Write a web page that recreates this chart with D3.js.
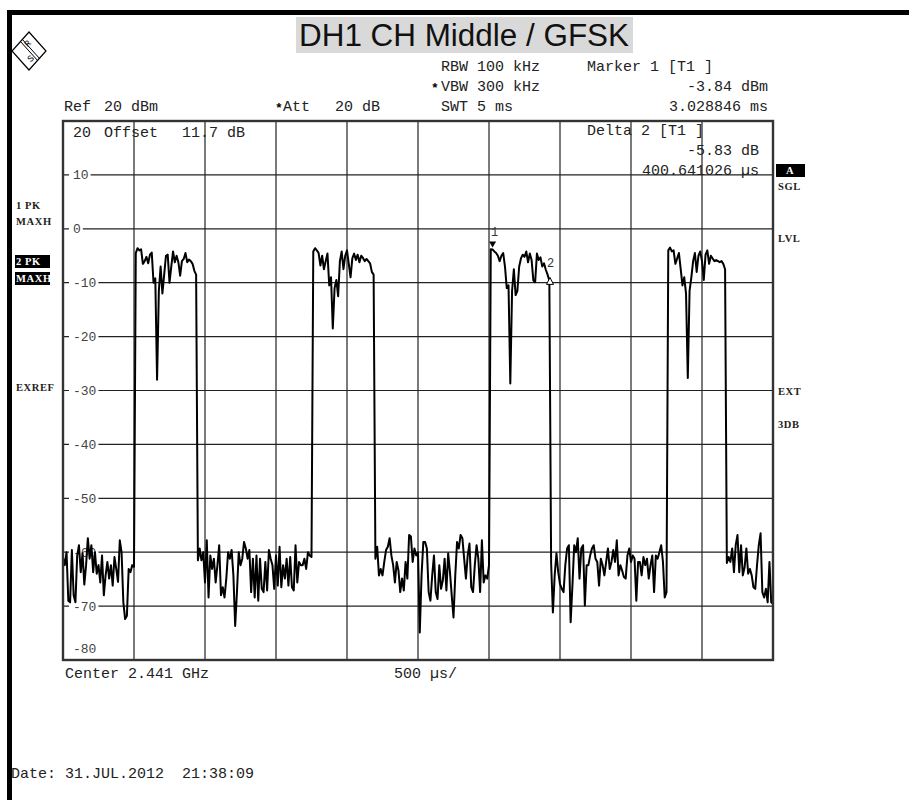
<!DOCTYPE html>
<html>
<head>
<meta charset="utf-8">
<script src="https://cdn.jsdelivr.net/npm/d3@7"></script>
<style>
  body { margin: 0; background: #fff; }
  svg text { font-family: "Liberation Mono", "Courier New", monospace; white-space: pre; }
</style>
</head>
<body>
<div id="chart"></div>
<script>
// ---- data ----
var sweepMs = 5;                 // 500 us/div, 10 divisions
var levelTicks = [20, 10, 0, -10, -20, -30, -40, -50, -60, -70, -80];
var timeDivs = [0.5, 1, 1.5, 2, 2.5, 3, 3.5, 4, 4.5];

// trace 2 (max hold), 401 sweep points, dBm
var levelDb = [
  -61, -62.4, -60, -69, -69.3, -59.6, -68, -69.3, -60.6, -58.7,          // 0
  -63.7, -60.2, -66, -62.4, -57.4, -61.2, -58.7, -63.7, -60, -64,        // 10
  -62.4, -65.6, -60.6, -68, -64.3, -61.8, -64.9, -62.4, -66.2, -60.9,    // 20
  -63.1, -65.5, -57.8, -60, -69.3, -72.4, -71.8, -63.1, -63.7, -62.4,    // 30
  -62.7, -4.5, -3.6, -4.0, -3.8, -6.5, -6.0, -5.2, -6.4, -4.8,           // 40
  -4.4, -10.0, -9.2, -28.0, -11.5, -7.0, -12.0, -8.5, -5.0, -4.8,        // 50
  -10.0, -7.0, -4.2, -6.2, -5.0, -6.2, -8.7, -6.0, -5.6, -4.5,           // 60
  -6.2, -5.7, -6.0, -6.5, -7.8, -8.5, -61.5, -59.3, -61.5, -60,          // 70
  -65.6, -57.8, -68.4, -60.6, -63.1, -61.2, -65.6, -62.4, -58.7, -68,    // 80
  -66.5, -68.4, -64.9, -60, -61.2, -59.6, -64.3, -73.7, -67.4, -60,      // 90
  -62.4, -61.2, -58.1, -59.3, -61.2, -59.6, -67.4, -61.2, -68.4, -60.6,  // 100
  -69, -61.2, -66.8, -67.4, -61.8, -67.1, -59.6, -61.2, -62.4, -66.8,    // 110
  -60.6, -66.2, -59, -66.5, -62.4, -64.9, -61.2, -66.2, -60.9, -66.5,    // 120
  -67.1, -58.7, -65.6, -61.8, -62.4, -62.4, -61.2, -63.1, -60, -60.6,    // 130
  -60.9, -4.2, -3.6, -4.0, -4.5, -6.8, -5.0, -7.5, -6.0, -4.6,           // 140
  -10.5, -9.0, -18.5, -11.0, -9.5, -12.5, -6.0, -4.2, -7.5, -5.0,        // 150
  -4.0, -6.5, -9.0, -5.5, -4.6, -5.8, -4.8, -6.2, -5.0, -5.4,            // 160
  -6.0, -5.6, -6.0, -6.4, -8.0, -8.5, -61.2, -59, -64.3, -63.1,          // 170
  -64.3, -61.8, -59.6, -59, -57.4, -60.6, -62.4, -65.6, -61.8, -63.4,    // 180
  -67.4, -64.9, -67.1, -61.8, -64.9, -56.8, -57.1, -61.8, -59.3, -60.6,  // 190
  -60, -74.9, -64.3, -58.1, -58.1, -59.3, -67.4, -69, -64.3, -60.6,      // 200
  -67.4, -68.7, -62.4, -66.8, -65.2, -61.2, -67.1, -60.2, -63.7, -68,    // 210
  -72.1, -64.3, -58.1, -59.3, -56.8, -57.4, -61.2, -64.9, -60.6, -58.4,  // 220
  -66.5, -67.4, -62.4, -58.7, -61.2, -67.4, -57.8, -65.6, -64.3, -64.9,  // 230
  -62.4, -3.8, -3.84, -4.2, -4.5, -5.0, -6.0, -5.0, -4.5, -7.0,          // 240
  -11.0, -10.5, -28.7, -11.5, -7.5, -12.3, -11.5, -7.0, -5.5, -4.8,      // 250
  -5.2, -4.2, -6.2, -4.6, -5.8, -9.6, -9.9, -4.6, -5.8, -5.3,            // 260
  -7.0, -6.4, -7.6, -8.5, -9.6, -62, -71.2, -64.3, -60.2, -63.7,         // 270
  -65.9, -66.8, -67.4, -62.4, -59.3, -58.7, -73, -66.2, -58.7, -60,      // 280
  -57.4, -64.9, -59.3, -58.7, -69.9, -62.4, -62.4, -60.6, -59.3, -58.7,  // 290
  -61.2, -61.8, -66.2, -61.2, -62.4, -64.3, -61.8, -59.3, -63.1, -61.8,  // 300
  -59.6, -61.8, -57.8, -64.3, -62.4, -63.4, -64.6, -64.9, -60.6, -59.3,  // 310
  -61.8, -60.6, -61.2, -69, -61.8, -61.8, -64.3, -60.9, -62.4, -61.2,    // 320
  -64.9, -62.4, -60.6, -67.4, -60.6, -61.2, -60, -58.7, -61.8, -68.4,    // 330
  -67.4, -4.0, -3.5, -4.2, -4.0, -6.5, -5.5, -4.5, -7.5, -10.5,          // 340
  -9.0, -12.0, -27.7, -11.5, -9.0, -6.0, -4.5, -8.0, -5.0, -4.2,         // 350
  -6.0, -9.5, -4.8, -4.0, -6.5, -5.0, -5.5, -6.0, -5.8, -6.0,            // 360
  -6.2, -6.0, -6.5, -7.5, -62, -60.9, -61.8, -59.3, -63.7, -58.7,        // 370
  -56.8, -63.7, -58.7, -64.3, -62.8, -59.3, -64, -63.1, -64.3, -66.5,    // 380
  -66.8, -62.4, -58.7, -56.5, -67.4, -68.4, -66.8, -69.3, -61.8, -69.3,  // 390
  -69.6                                                                  // 400
];

var marker1 = { label: "1", timeMs: 3.028846, level: -3.84 };
var marker2 = { label: "2", timeMs: 3.028846 + 0.400641026, level: -3.84 - 5.83 };

var headerLines = [
  { x: 441, y: 71,  text: "RBW 100 kHz" },
  { x: 441, y: 91,  text: "VBW 300 kHz", star: 431 },
  { x: 441, y: 111, text: "SWT 5 ms" },
  { x: 587, y: 71,  text: "Marker 1 [T1 ]" },
  { x: 768, y: 91,  text: "-3.84 dBm", anchor: "end" },
  { x: 768, y: 111, text: "3.028846 ms", anchor: "end" },
  { x: 64,  y: 111, text: "Ref" },
  { x: 104, y: 111, text: "20 dBm" },
  { x: 283, y: 111, text: "Att", star: 275 },
  { x: 335, y: 111, text: "20 dB" },
  { x: 587, y: 135, text: "Delta 2 [T1 ]" },
  { x: 759, y: 155, text: "-5.83 dB", anchor: "end" },
  { x: 759, y: 175, text: "400.641026 \u00b5s", anchor: "end" },
  { x: 73,  y: 137, text: "20" },
  { x: 104, y: 137, text: "Offset" },
  { x: 182, y: 137, text: "11.7 dB" },
  { x: 65,  y: 678, text: "Center 2.441 GHz" },
  { x: 394, y: 678, text: "500 \u00b5s/" },
  { x: 11,  y: 778, text: "Date: 31.JUL.2012  21:38:09" }
];

var sideLabels = [
  { x: 16,  y: 209, text: "1 PK" },
  { x: 16,  y: 225, text: "MAXH" },
  { x: 16,  y: 265, text: "2 PK", inverse: true },
  { x: 16,  y: 282, text: "MAXH", inverse: true },
  { x: 16,  y: 391, text: "EXREF" },
  { x: 786, y: 174, text: "A", inverse: true, boxX: 776, boxW: 29 },
  { x: 778, y: 190, text: "SGL" },
  { x: 778, y: 242, text: "LVL" },
  { x: 778, y: 395, text: "EXT" },
  { x: 778, y: 428, text: "3DB" }
];

// ---- drawing ----
var W = 909, H = 800;
var plot = { left: 63, right: 773, top: 121, bottom: 660 };

var svg = d3.select("#chart").append("svg")
    .attr("width", W)
    .attr("height", H);

var x = d3.scaleLinear().domain([0, sweepMs]).range([plot.left, plot.right]);
var y = d3.scaleLinear().domain([-80, 20]).range([plot.bottom, plot.top]);

// outer black borders of the screen shot
svg.append("rect").attr("x", 7).attr("y", 10).attr("width", W - 7).attr("height", 5).attr("fill", "#000");
svg.append("rect").attr("x", 7).attr("y", 10).attr("width", 5).attr("height", H - 10).attr("fill", "#000");

// title
svg.append("rect").attr("x", 296).attr("y", 17).attr("width", 337).attr("height", 36).attr("fill", "#d9d9d9");
svg.append("text")
    .attr("x", 299).attr("y", 46)
    .attr("textLength", 330).attr("lengthAdjust", "spacingAndGlyphs")
    .style("font-family", "'Liberation Sans', Arial, sans-serif")
    .style("font-size", "31px")
    .attr("fill", "#111")
    .text("DH1 CH Middle / GFSK");

// R&S logo
var logo = svg.append("g").attr("transform", "translate(29,51)");
logo.append("path").attr("d", "M0,-19 L17,0 L0,19 L-17,0 Z")
    .attr("fill", "none").attr("stroke", "#000").attr("stroke-width", 1.2);
logo.append("line").attr("x1", -9).attr("y1", -10).attr("x2", 9).attr("y2", 10).attr("stroke", "#000").attr("stroke-width", 1);
logo.append("line").attr("x1", -7).attr("y1", -12).attr("x2", 11).attr("y2", 8).attr("stroke", "#000").attr("stroke-width", 1);
logo.append("text").attr("x", -4).attr("y", -4).style("font-size", "9px").attr("fill", "#000")
    .attr("transform", "rotate(-45,-2,-7)").text("R");
logo.append("text").attr("x", -1).attr("y", 11).style("font-size", "9px").attr("fill", "#000")
    .attr("transform", "rotate(-45,1,8)").text("S");

// grid
var grid = svg.append("g");
grid.selectAll("line.v").data(timeDivs).enter().append("line")
    .attr("class", "v")
    .attr("x1", function (d) { return x(d); }).attr("x2", function (d) { return x(d); })
    .attr("y1", plot.top).attr("y2", plot.bottom)
    .attr("stroke", "#222").attr("stroke-width", 1.2);
grid.selectAll("line.h").data(levelTicks.slice(1, -1)).enter().append("line")
    .attr("class", "h")
    .attr("x1", plot.left).attr("x2", plot.right)
    .attr("y1", function (d) { return y(d); }).attr("y2", function (d) { return y(d); })
    .attr("stroke", "#222").attr("stroke-width", 1.2);

// level labels on the grid, with the grid line knocked out behind them
var inner = levelTicks.slice(1, -1);
var lab = svg.append("g");
lab.selectAll("rect").data(inner).enter().append("rect")
    .attr("x", 69).attr("y", function (d) { return y(d) - 5; })
    .attr("width", function (d) { return String(d).length * 7.8 + 6; })
    .attr("height", 10).attr("fill", "#fff");
lab.selectAll("text").data(inner).enter().append("text")
    .attr("x", 73).attr("y", function (d) { return y(d) + 4.5; })
    .style("font-size", "13px").attr("fill", "#444")
    .text(function (d) { return d; });
lab.append("text").attr("x", 73).attr("y", y(-80) - 7)
    .style("font-size", "13px").attr("fill", "#444").text(levelTicks[levelTicks.length - 1]);

// trace
var step = sweepMs / (levelDb.length - 1);
svg.append("clipPath").attr("id", "clip").append("rect")
    .attr("x", plot.left).attr("y", plot.top)
    .attr("width", plot.right - plot.left).attr("height", plot.bottom - plot.top);
var line = d3.line()
    .x(function (d, i) { return x(i * step); })
    .y(function (d) { return y(d); });
svg.append("path").datum(levelDb)
    .attr("clip-path", "url(#clip)")
    .attr("d", line)
    .attr("fill", "none").attr("stroke", "#000")
    .attr("stroke-width", 2).attr("stroke-linejoin", "round");

// frame
svg.append("rect")
    .attr("x", plot.left).attr("y", plot.top)
    .attr("width", plot.right - plot.left).attr("height", plot.bottom - plot.top)
    .attr("fill", "none").attr("stroke", "#333").attr("stroke-width", 2.4);

// markers
var m1x = x(marker1.timeMs), m1y = y(marker1.level);
svg.append("path").attr("d", "M" + (m1x - 4) + "," + (m1y - 8) + " L" + (m1x + 3) + "," + (m1y - 8) + " L" + (m1x - 0.5) + "," + (m1y - 2) + " Z")
    .attr("fill", "#000");
svg.append("text").attr("x", m1x - 2).attr("y", m1y - 13).style("font-size", "12px").attr("fill", "#333").text(marker1.label);
var m2x = x(marker2.timeMs), m2y = y(marker2.level);
svg.append("path").attr("d", "M" + (m2x - 3.5) + "," + (m2y + 3.5) + " L" + (m2x + 3.5) + "," + (m2y + 3.5) + " L" + m2x + "," + (m2y - 3.5) + " Z")
    .attr("fill", "#fff").attr("stroke", "#000").attr("stroke-width", 1);
svg.append("text").attr("x", m2x - 3).attr("y", m2y - 14).style("font-size", "12px").attr("fill", "#333").text(marker2.label);

// header / footer texts
var txt = svg.append("g");
headerLines.forEach(function (d) {
    txt.append("text")
        .attr("x", d.x).attr("y", d.y)
        .attr("text-anchor", d.anchor || "start")
        .style("font-size", "15px").attr("fill", "#222")
        .text(d.text);
    if (d.star) {
        txt.append("text").attr("x", d.star).attr("y", d.y + 1)
            .style("font-size", "13px").style("font-weight", "bold").attr("fill", "#000").text("*");
    }
});

// side annotation labels
sideLabels.forEach(function (d) {
    var g = svg.append("g");
    if (d.inverse) {
        g.append("rect")
            .attr("x", d.boxX || d.x - 1).attr("y", d.y - 10)
            .attr("width", d.boxW || 35).attr("height", 13)
            .attr("fill", "#000");
    }
    g.append("text")
        .attr("x", d.x).attr("y", d.y)
        .style("font-family", "'Liberation Serif', serif")
        .style("font-size", "10.5px").style("font-weight", "bold")
        .style("letter-spacing", "0.6px")
        .attr("fill", d.inverse ? "#fff" : "#222")
        .text(d.text);
});
</script>
</body>
</html>
